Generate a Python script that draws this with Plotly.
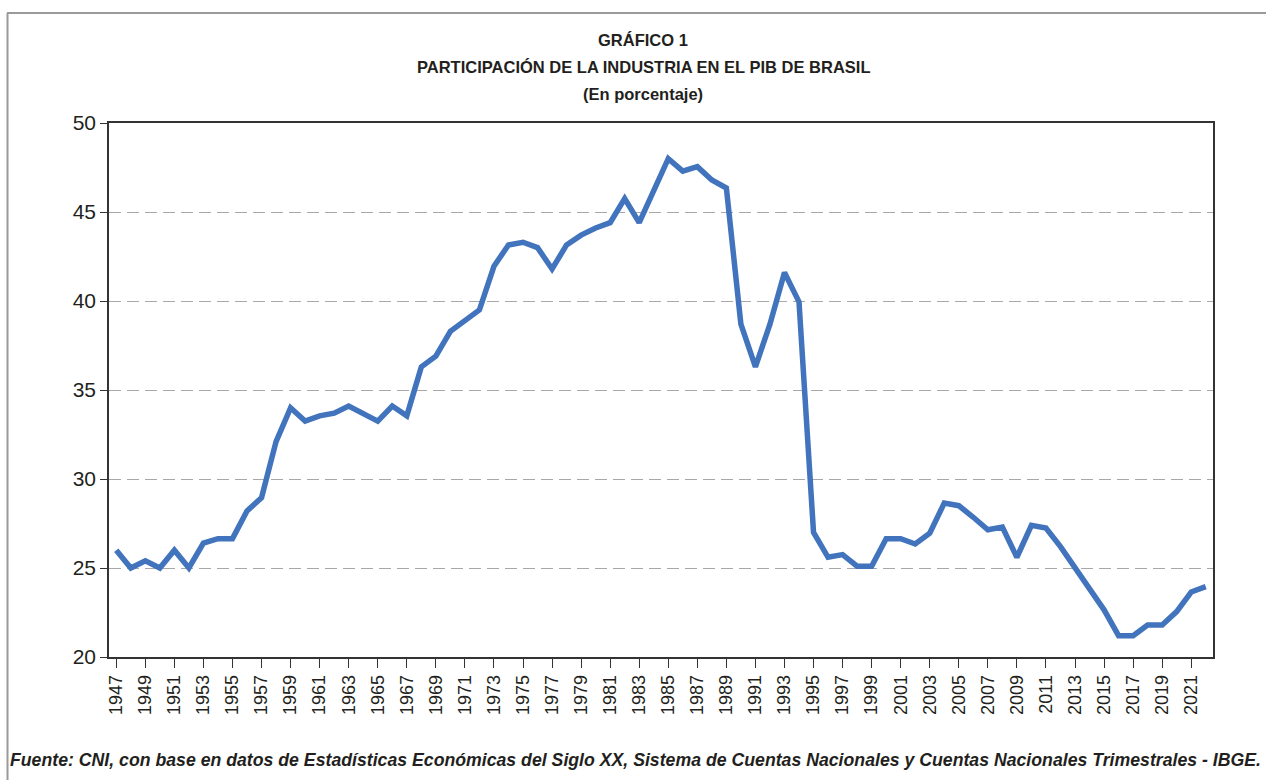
import plotly.graph_objects as go

years = list(range(1947, 2023))
share = [26.0, 25.0, 25.4, 25.0, 26.0, 25.0, 26.4, 26.65, 26.65, 28.2,
         28.95, 32.1, 34.0, 33.25, 33.55, 33.7, 34.1, 33.7, 33.25, 34.1,
         33.55, 36.3, 36.9, 38.3, 38.9, 39.5, 41.95, 43.15, 43.3, 43.0,
         41.8, 43.15, 43.7, 44.1, 44.4, 45.75, 44.4, 46.2, 48.0, 47.3,
         47.55, 46.8, 46.35, 38.7, 36.3, 38.7, 41.6, 39.95, 27.0, 25.6,
         25.75, 25.1, 25.1, 26.65, 26.65, 26.35, 26.95, 28.65, 28.5, 27.85,
         27.15, 27.3, 25.6, 27.4, 27.25, 26.2, 25.05, 23.9, 22.65, 21.2,
         21.2, 21.8, 21.8, 22.55, 23.65, 23.95]
tick_years = years[0:-1:2]
tick_labels = [str(y) for y in tick_years]
y_ticks = [20, 25, 30, 35, 40, 45, 50]

title_lines = ["GRÁFICO 1", "PARTICIPACIÓN DE LA INDUSTRIA EN EL PIB DE BRASIL", "(En porcentaje)"]
source = ("Fuente: CNI, con base en datos de Estadísticas Económicas del Siglo XX, "
          "Sistema de Cuentas Nacionales y Cuentas Nacionales Trimestrales - IBGE.")

W, H = 1266, 780
L, R, T, B = 109, 1213, 123, 657

fig = go.Figure()
fig.add_trace(go.Scatter(x=years, y=share, mode="lines",
                         line=dict(color="#4174BD", width=5.5), hoverinfo="x+y"))

def px(x):
    return (x - L) / (R - L)

def py(y):
    return (B - y) / (B - T)

fig.update_layout(
    width=W, height=H,
    margin=dict(l=L, r=W - R, t=T, b=H - B, pad=0),
    paper_bgcolor="white", plot_bgcolor="white",
    showlegend=False,
    font=dict(family="Liberation Sans, Arial, sans-serif", color="#231f20"),
    xaxis=dict(range=[years[0] - 0.5, years[-1] + 0.5],
               tickmode="array", tickvals=tick_years, ticktext=tick_labels,
               tickangle=-90, tickfont=dict(size=18, color="#231f20"),
               ticks="outside", ticklen=9, tickwidth=1.3, tickcolor="#333",
               showline=True, linecolor="#333", linewidth=1.5, mirror=True,
               showgrid=False, zeroline=False),
    yaxis=dict(range=[20, 50], tickmode="array", tickvals=y_ticks,
               tickfont=dict(size=21, color="#231f20"),
               ticks="outside", ticklen=7, tickwidth=1.3, tickcolor="#333",
               showline=True, linecolor="#333", linewidth=1.5, mirror=True,
               showgrid=True, gridcolor="#a8a8a8", gridwidth=1.3, griddash="12px,6px",
               zeroline=False),
)

title_y = [40, 67, 94]
for txt, yy in zip(title_lines, title_y):
    fig.add_annotation(text="<b>" + txt + "</b>", xref="paper", yref="paper",
                       x=px(643), y=py(yy), xanchor="center", yanchor="middle",
                       showarrow=False, font=dict(size=16.5, color="#231f20",
                                                  family="Liberation Sans, Arial, sans-serif"))

fig.add_annotation(text="<b><i>" + source + "</i></b>", xref="paper", yref="paper",
                   x=px(8), y=py(760), xanchor="left", yanchor="middle",
                   showarrow=False, font=dict(size=17.7, color="#231f20",
                                              family="Liberation Sans, Arial, sans-serif"))

# outer frame (top and left grey lines)
fig.add_shape(type="line", xref="paper", yref="paper",
              x0=px(7), x1=px(1266), y0=py(13), y1=py(13),
              line=dict(color="#9a9a9a", width=2))
fig.add_shape(type="line", xref="paper", yref="paper",
              x0=px(7.5), x1=px(7.5), y0=py(13), y1=py(780),
              line=dict(color="#9a9a9a", width=2))

fig.write_html("out.html", config={"displayModeBar": False},
               post_script="document.body.style.margin='0px';")
